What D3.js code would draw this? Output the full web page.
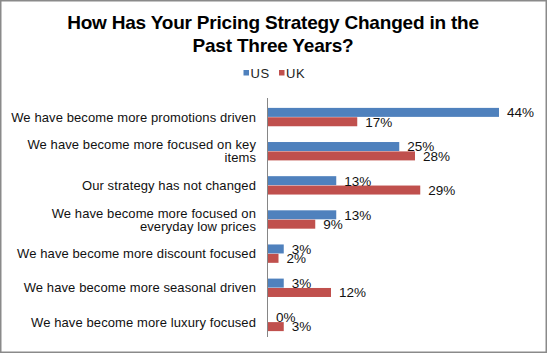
<!DOCTYPE html>
<html>
<head>
<meta charset="utf-8">
<script src="https://cdn.jsdelivr.net/npm/d3@7"></script>
<style>
  html, body { margin: 0; padding: 0; background: #fff; }
  svg { display: block; font-family: "Liberation Sans", Arial, sans-serif; }
</style>
</head>
<body>
<div class="canvas"></div>
<script>
// chart data
var categories = [
    "We have become more promotions driven",
    "We have become more focused on key\nitems",
    "Our strategy has not changed",
    "We have become more focused on\neveryday low prices",
    "We have become more discount focused",
    "We have become more seasonal driven",
    "We have become more luxury focused"
];
var seriesNames = ["US", "UK"];
var usValues = [44, 25, 13, 13, 3, 3, 0];
var ukValues = [17, 28, 29, 9, 2, 12, 3];
var colors = ["#4F81BD", "#C0504D"];

var width = 547, height = 353;

var svg = d3.select(".canvas").append("svg")
    .attr("width", width)
    .attr("height", height);

// border
svg.append("rect")
    .attr("x", 0.75).attr("y", 0.75)
    .attr("width", width - 1.5).attr("height", height - 1.5)
    .attr("fill", "#fff")
    .attr("stroke", "#8a8a8a")
    .attr("stroke-width", 1.5);

// title
var title = svg.append("text")
    .attr("text-anchor", "middle")
    .attr("font-size", 19)
    .attr("font-weight", "bold")
    .attr("letter-spacing", -0.2)
    .attr("fill", "#000");
title.append("tspan").attr("x", 273).attr("y", 29).text("How Has Your Pricing Strategy Changed in the");
title.append("tspan").attr("x", 273).attr("y", 51.5).text("Past Three Years?");

// scales
var x = d3.scaleLinear().domain([0, 50]).range([268, 530.5]);
var y = d3.scaleBand().domain(categories).range([100, 339])
    .paddingInner(0.44).paddingOuter(0.22);
var ySub = d3.scaleBand().domain(seriesNames).range([0, y.bandwidth()]).padding(0.04);

var rows = categories.map(function (c, i) {
    return { cat: c, values: [usValues[i], ukValues[i]] };
});

// legend
var legend = svg.append("g").attr("font-size", 13).attr("fill", "#222");
var legendX = [243.5, 279];
seriesNames.forEach(function (s, i) {
    legend.append("rect")
        .attr("x", legendX[i]).attr("y", 70)
        .attr("width", 5.5).attr("height", 5.5)
        .attr("fill", colors[i]);
    legend.append("text")
        .attr("x", legendX[i] + 7).attr("y", 77.5)
        .attr("letter-spacing", 0.6)
        .text(s);
});

// bars
var groups = svg.append("g").selectAll("g")
    .data(rows)
    .enter().append("g")
    .attr("transform", d => "translate(0," + y(d.cat) + ")");

groups.selectAll("rect")
    .data(d => d.values.map((v, i) => ({ key: seriesNames[i], value: v, i: i })))
    .enter().append("rect")
    .attr("x", x(0))
    .attr("y", d => ySub(d.key))
    .attr("width", d => x(d.value) - x(0))
    .attr("height", ySub.bandwidth())
    .attr("fill", d => colors[d.i]);

groups.selectAll("text.val")
    .data(d => d.values.map((v, i) => ({ key: seriesNames[i], value: v })))
    .enter().append("text")
    .attr("class", "val")
    .attr("x", d => x(d.value) + 8)
    .attr("y", d => ySub(d.key) + ySub.bandwidth() / 2)
    .attr("dy", "0.36em")
    .attr("font-size", 13.5)
    .attr("fill", "#111")
    .text(d => d.value + "%");

// category axis line
svg.append("line")
    .attr("x1", x(0) - 0.5).attr("x2", x(0) - 0.5)
    .attr("y1", 98).attr("y2", 337)
    .attr("stroke", "#868686")
    .attr("stroke-width", 1);

// category labels
var labels = svg.append("g")
    .attr("font-size", 13)
    .attr("letter-spacing", 0.1)
    .attr("text-anchor", "end")
    .attr("fill", "#111");

rows.forEach(function (d) {
    var lines = d.cat.split("\n");
    var cy = y(d.cat) + y.bandwidth() / 2;
    var t = labels.append("text");
    lines.forEach(function (line, j) {
        t.append("tspan")
            .attr("x", 256)
            .attr("y", cy + (j - (lines.length - 1) / 2) * 13)
            .attr("dy", "0.36em")
            .text(line);
    });
});
</script>
</body>
</html>
